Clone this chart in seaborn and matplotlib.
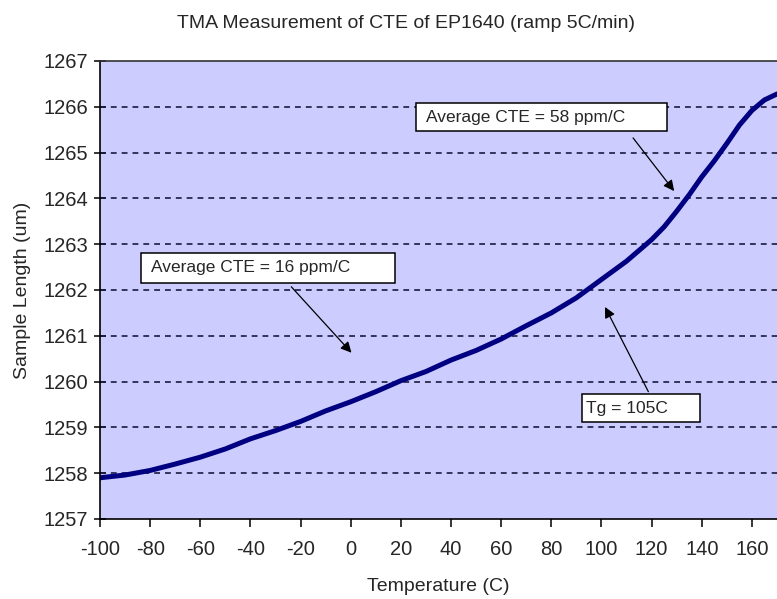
import matplotlib
matplotlib.use("Agg")
import matplotlib.pyplot as plt
import seaborn as sns
import pandas as pd
from matplotlib.patches import Rectangle

# ---- data ----
temperature = [-100, -90, -80, -70, -60, -50, -40, -30, -20, -10, 0, 10, 20, 30, 40, 50,
               60, 70, 80, 90, 100, 110, 120, 125, 130, 135, 140, 145, 150, 155, 160,
               165, 170]
sample_length = [1257.90, 1257.96, 1258.06, 1258.20, 1258.35, 1258.53, 1258.75, 1258.93,
                 1259.13, 1259.36, 1259.56, 1259.78, 1260.02, 1260.22, 1260.47, 1260.68,
                 1260.93, 1261.22, 1261.50, 1261.83, 1262.23, 1262.63, 1263.10, 1263.38,
                 1263.72, 1264.08, 1264.47, 1264.82, 1265.20, 1265.60, 1265.92,
                 1266.15, 1266.28]
x_ticks = [-100, -80, -60, -40, -20, 0, 20, 40, 60, 80, 100, 120, 140, 160]
y_ticks = [1257, 1258, 1259, 1260, 1261, 1262, 1263, 1264, 1265, 1266, 1267]

title = "TMA Measurement of CTE of EP1640 (ramp 5C/min)"
x_label = "Temperature (C)"
y_label = "Sample Length (um)"
notes = ["Average CTE = 58 ppm/C", "Average CTE = 16 ppm/C", "Tg = 105C"]

df = pd.DataFrame({"Temperature": temperature, "Length": sample_length})

sns.set_theme(style="white")
plt.rcParams['font.family'] = ['Liberation Sans', 'DejaVu Sans']

fig = plt.figure(figsize=(7.77, 5.99), dpi=100)
ax = fig.add_axes([100 / 777, 1 - 519 / 599, 677 / 777, 458 / 599])
ax.set_facecolor("#CCCCFF")

sns.lineplot(data=df, x="Temperature", y="Length", ax=ax, color="#000080",
             linewidth=3.6, solid_capstyle="round", solid_joinstyle="round")

ax.set_xlim(-100, 170)
ax.set_ylim(1257, 1267)
ax.set_xticks(x_ticks)
ax.set_yticks(y_ticks)
ax.set_xticklabels([str(v) for v in x_ticks])
ax.set_yticklabels([str(v) for v in y_ticks])

for yv in y_ticks[1:-1]:
    ax.axhline(yv, color="#1a1a40", lw=1.2, ls=(0, (3.5, 3)), zorder=1)

for s in ["left", "bottom", "top"]:
    ax.spines[s].set_color("black")
    ax.spines[s].set_linewidth(1.2)
ax.spines["right"].set_visible(False)
ax.spines["top"].set_color("#333333")

ax.tick_params(axis="y", direction="inout", length=9, width=1.1, color="black",
               labelsize=14.5, pad=4)
ax.tick_params(axis="x", direction="out", length=6, width=1.1, color="black",
               labelsize=14.5, pad=9)
ax.tick_params(left=True, bottom=True)

ax.set_xlabel(x_label, fontsize=14, labelpad=14)
ax.set_ylabel(y_label, fontsize=14, labelpad=9)
fig.text(406 / 777, 1 - 24 / 599, title, ha="center", va="center", fontsize=14)

# ---- annotation boxes (x0, x1, y0, y1) and arrows ----
boxes = [(26.0, 126.2, 1265.47, 1266.08),
         (-83.5, 17.6, 1262.16, 1262.81),
         (92.1, 139.4, 1259.11, 1259.73)]
text_x = [29.9, -79.6, 93.8]
arrows = [((112.6, 1265.32), (129.0, 1264.16)),
          ((-23.7, 1262.07), (0.3, 1260.63)),
          ((118.7, 1259.78), (101.4, 1261.63))]

for (x0, x1, y0, y1), tx, note in zip(boxes, text_x, notes):
    ax.add_patch(Rectangle((x0, y0), x1 - x0, y1 - y0, facecolor="white",
                           edgecolor="black", lw=1.1, zorder=5))
    ax.text(tx, (y0 + y1) / 2, note, ha="left", va="center", fontsize=12.5, zorder=6)

for start, tip in arrows:
    ax.annotate("", xy=tip, xytext=start, zorder=6,
                arrowprops=dict(arrowstyle="-|>", color="black", lw=0.9,
                                mutation_scale=16, shrinkA=0, shrinkB=0))

fig.savefig("out.png", dpi=100)
